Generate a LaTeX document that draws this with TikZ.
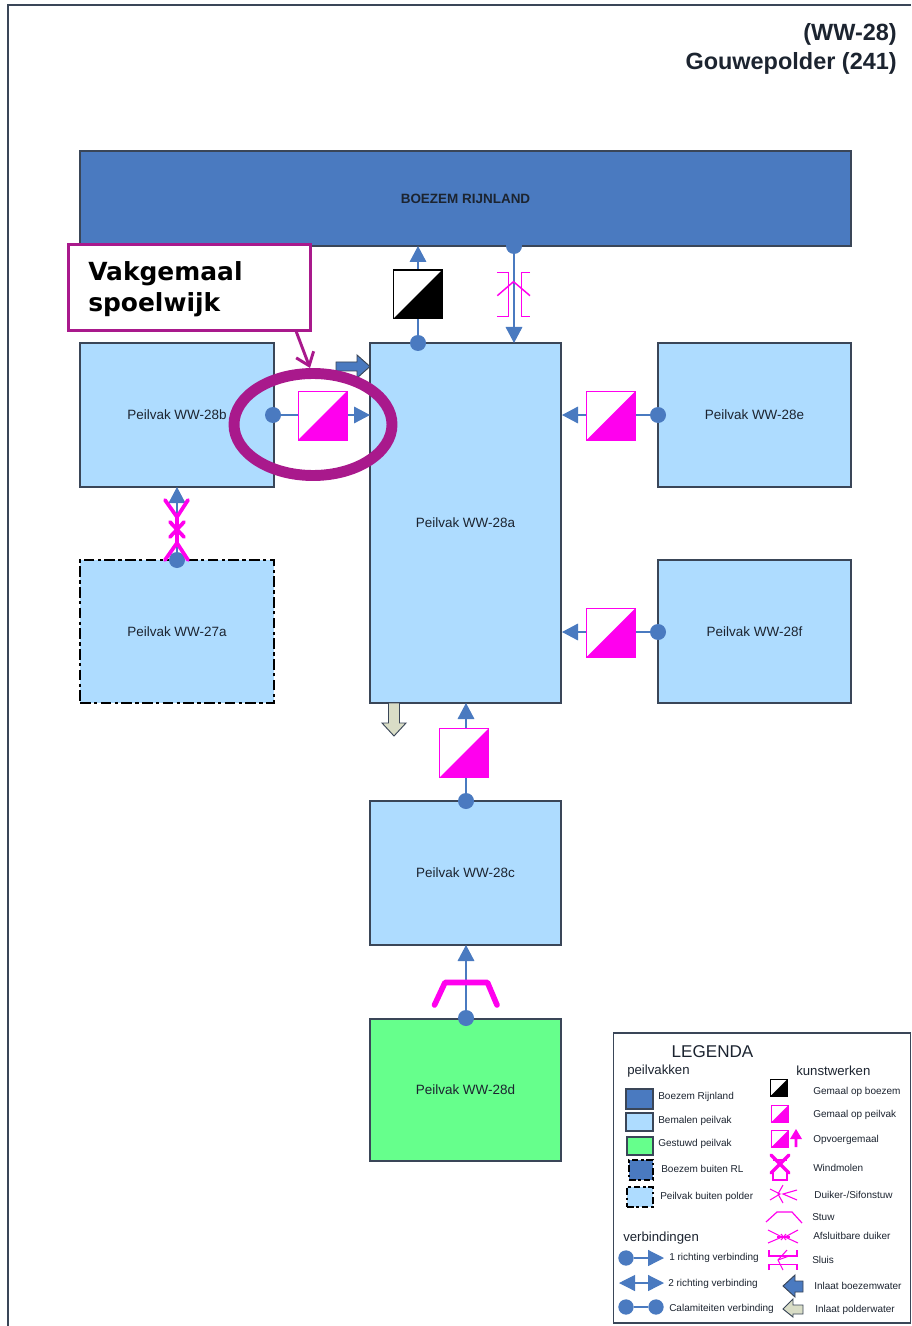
\documentclass[tikz,border=0pt]{standalone}
\usepackage{fontspec}
\setmainfont{Liberation Sans}
\newfontfamily\callfont{DejaVu Sans}
\usetikzlibrary{arrows.meta,shapes.geometric}
\definecolor{bl}{HTML}{4A7AC0}
\definecolor{lb}{HTML}{AEDCFF}
\definecolor{gr}{HTML}{66FF8C}
\definecolor{edge}{HTML}{3A4658}
\definecolor{mag}{HTML}{FF00EE}
\definecolor{pur}{HTML}{A9198C}
\definecolor{txt}{HTML}{1C2430}
\definecolor{pale}{HTML}{D9DDC6}
\tikzset{
 box/.style={draw=edge,line width=.85pt,inner sep=0,outer sep=0,text=txt,font=\fontsize{10.1pt}{12pt}\selectfont},
 ddash/.style={draw=black,dash pattern=on 8pt off 2.5pt on 2.5pt off 2.5pt},
 dot/.style={circle,fill=bl,inner sep=0,outer sep=0,minimum size=12pt},
 ldot/.style={circle,fill=bl,inner sep=0,outer sep=0,minimum size=11.5pt},
 conn/.style={draw=bl,line width=.9pt},
 tip/.style={conn,-{Triangle[length=12pt,width=12.5pt,fill=bl]}},
 gem/.style={draw=#1,line width=1pt,fill=white,inner sep=0,outer sep=0,minimum size=36.5pt,
   path picture={\fill[#1] (path picture bounding box.north east)--(path picture bounding box.south east)--(path picture bounding box.south west)--cycle;}},
 lgem/.style={gem=#1,minimum size=12.5pt},
 mg/.style={draw=mag,line width=1.1pt},
 mgt/.style={draw=mag,line width=2.8pt,line cap=round,line join=round},
 lab/.style={anchor=west,inner sep=0,text=txt,font=\fontsize{7.5pt}{9pt}\selectfont},
 head/.style={anchor=west,inner sep=0,text=txt,font=\fontsize{9.9pt}{12pt}\selectfont},
}
\newcommand\bx[7][box]{\node[#1,#6,minimum width={(#4-#2)*0.75pt},minimum height={(#5-#3)*0.75pt}] (#7) at ({(#2+#4)/2},{(#3+#5)/2})}
\begin{document}
\begin{tikzpicture}[x=0.75pt,y=-0.75pt]
\useasboundingbox (0,0) rectangle (911,1326);
\fill[white] (0,0) rectangle (911,1326);
\coordinate (fa) at (8,1326); \coordinate (fb) at (8,5); \coordinate (fc) at (911,5);
\draw[edge,line width=.9pt] (fa)--(fb)--(fc);
% title
\node[anchor=east,inner sep=0,text=txt,font=\bfseries\fontsize{17.6pt}{20pt}\selectfont] (t1) at (897,34) {(WW-28)};
\node[anchor=east,inner sep=0,text=txt,font=\bfseries\fontsize{17.6pt}{20pt}\selectfont] (t2) at (897,63) {Gouwepolder (241)};
% boxes
\bx{80}{151}{851}{246}{fill=bl}{boezem} {\bfseries BOEZEM RIJNLAND};
\bx{80}{343}{274}{487}{fill=lb}{b} {Peilvak WW-28b};
\bx{80}{560}{274}{703}{fill=lb,ddash}{k} {Peilvak WW-27a};
\bx{370}{343}{561}{703}{fill=lb}{a} {Peilvak WW-28a};
\bx{658}{343}{851}{487}{fill=lb}{e} {Peilvak WW-28e};
\bx{658}{560}{851}{703}{fill=lb}{f} {Peilvak WW-28f};
\bx{370}{801}{561}{945}{fill=lb}{c} {Peilvak WW-28c};
\bx{370}{1019}{561}{1161}{fill=gr}{d} {Peilvak WW-28d};
% coordinates on edges
\coordinate (tb1) at (418,246);
\coordinate (ta1) at (514,343);
\coordinate (tab) at (370,415);
\coordinate (tea) at (562,415);
\coordinate (tfa) at (562,632);
\coordinate (tca) at (466,703);
\coordinate (tdc) at (466,945);
\coordinate (tkb) at (177,487);
% dots
\node[dot] (d1) at (418,343) {};
\node[dot] (d2) at (514,246) {};
\node[dot] (d3) at (273,415) {};
\node[dot] (d4) at (658,415) {};
\node[dot] (d5) at (658,632) {};
\node[dot] (d6) at (466,801) {};
\node[dot] (d7) at (466,1018) {};
\node[dot] (d8) at (177,560) {};
% connectors
\draw[tip] (d1)--(tb1);
\draw[tip] (d2)--(ta1);
\draw[tip] (d3)--(tab);
\draw[tip] (d4)--(tea);
\draw[tip] (d5)--(tfa);
\draw[tip] (d6)--(tca);
\draw[tip] (d7)--(tdc);
\draw[tip] (d8)--(tkb);
% gemaal squares
\node[gem=black] (g1) at (417.5,294.5) {};
\node[gem=mag] (g2) at (322.5,415.5) {};
\node[gem=mag] (g3) at (611,415.5) {};
\node[gem=mag] (g4) at (611,632.5) {};
\node[gem=mag] (g5) at (464,753) {};
% sluis on boezem link
\draw[mg] (497.3,272.7)--(508.3,272.7)--(508.3,316.7)--(497.3,316.7);
\draw[mg] (530,272.7)--(521.7,272.7)--(521.7,316.7)--(530,316.7);
\draw[mg] (497.3,295.7)--(513.5,281.7)--(530,295.7);
% afsluitbare duiker
\draw[mgt] (165,500)--(177,517)--(188,500);
\draw[mgt] (165,560)--(177,543)--(188,560);
\draw[mgt] (177,517)--(177,543);
\draw[mgt] (170,522)--(184,537);
\draw[mgt] (184,522)--(170,537);
% stuw
\draw[draw=mag,line width=4.2pt,line cap=round,line join=round] (434.5,1005)--(445,982.5)--(487.5,982.5)--(497,1005);
% inlet arrows
\draw[fill=bl,draw=edge,line width=.7pt] (336,362)--(357,362)--(357,355)--(370,366.5)--(357,378)--(357,371)--(336,371)--cycle;
\draw[fill=pale,draw=edge,line width=.7pt] (388.5,703)--(388.5,723)--(382,723)--(394,736)--(406,723)--(399.5,723)--(399.5,703)--cycle;
% callout
\node[draw=pur,line width=2.2pt,fill=white,inner sep=0,outer sep=0,minimum width=182pt,minimum height=65pt] (call) at (189.5,287.5) {};
\node[anchor=west,inner sep=0,align=left,text=black,font=\callfont\bfseries\fontsize{18.7pt}{23pt}\selectfont] (calltext) at (88,289) {Vakgemaal\\spoelwijk};
\node[ellipse,draw=pur,line width=8.2pt,inner sep=0,minimum width=118.5pt,minimum height=76.5pt] (ell) at (313,424.5) {};
\coordinate (cs) at (296,331); \coordinate (ct) at (310,368);
\draw[pur,line width=2.2pt,-{Straight Barb[length=9pt,width=14pt]}] (cs)--(ct);
% legend
\node[draw=edge,line width=1pt,fill=white,inner sep=0,outer sep=0,minimum width=223pt,minimum height=217.5pt] (leg) at (762,1178) {};
\node[inner sep=0,text=txt,font=\fontsize{12.8pt}{14pt}\selectfont] (lh) at (712.5,1051.5) {LEGENDA};
\node[head] (h1) at (627,1071) {peilvakken};
\node[head] (h2) at (796,1071) {kunstwerken};
\node[head] (h3) at (623,1238) {verbindingen};
\bx{626}{1089}{653}{1109}{fill=bl}{l1} {};
\bx{626}{1113}{653}{1131}{fill=lb}{l2} {};
\bx{627}{1137}{653}{1155}{fill=gr}{l3} {};
\bx{629}{1160}{653}{1180}{fill=bl,ddash,dash pattern=on 5pt off 2pt on 2pt off 2pt}{l4} {};
\bx{627}{1187}{653}{1207}{fill=lb,ddash,dash pattern=on 5pt off 2pt on 2pt off 2pt}{l5} {};
\node[lab] (p1) at (658,1096.5) {Boezem Rijnland};
\node[lab] (p2) at (658,1120.5) {Bemalen peilvak};
\node[lab] (p3) at (658,1143.5) {Gestuwd peilvak};
\node[lab] (p4) at (661,1168.5) {Boezem buiten RL};
\node[lab] (p5) at (660,1196.5) {Peilvak buiten polder};
% legend connections
\node[ldot] (v1) at (626,1258) {};
\coordinate (v1t) at (664,1258);
\draw[conn,-{Triangle[length=12pt,width=12pt,fill=bl]}] (v1)--(v1t);
\coordinate (v2a) at (619,1283); \coordinate (v2b) at (664,1283);
\draw[conn,{Triangle[length=12pt,width=12pt,fill=bl]}-{Triangle[length=12pt,width=12pt,fill=bl]}] (v2a)--(v2b);
\node[ldot] (v3) at (626,1307) {};
\node[ldot] (v4) at (656,1307) {};
\draw[conn] (v3)--(v4);
\node[lab] (q1) at (669,1258) {1 richting verbinding};
\node[lab] (q2) at (668,1283.5) {2 richting verbinding};
\node[lab] (q3) at (669,1308.5) {Calamiteiten verbinding};
% legend structures
\node[lgem=black] (s1) at (779,1087.5) {};
\node[lgem=mag] (s2) at (780,1113.5) {};
\node[lgem=mag] (s3) at (780,1138.5) {};
\fill[mag] (796,1129)--(802,1139)--(797.3,1139)--(797.3,1147)--(794.7,1147)--(794.7,1139)--(790,1139)--cycle;
\draw[mag,line width=2.6pt,line cap=round] (771,1155)--(789,1173);
\draw[mag,line width=2.6pt,line cap=round] (789,1155)--(771,1173);
\draw[mag,line width=1pt] (773,1160)--(787,1160);
\draw[mag,line width=1pt] (773,1170)--(773,1180)--(787,1180)--(787,1170);
\draw[mg,line width=.8pt] (770,1189)--(780,1194)--(770,1200);
\draw[mg,line width=.8pt] (797,1190)--(783,1194)--(797,1200);
\draw[mg,line width=.8pt] (783,1185)--(778,1194)--(783,1203);
\draw[mg,line width=.9pt] (766,1222)--(777,1212)--(792,1212)--(802,1223);
\draw[mg,line width=.8pt] (768,1230)--(782,1237)--(768,1243);
\draw[mg,line width=.8pt] (798,1230)--(785,1237)--(798,1243);
\draw[mg,line width=.8pt] (777,1237)--(790,1237);
\draw[mg,line width=.8pt] (781,1234)--(786,1240);
\draw[mg,line width=.8pt] (786,1234)--(781,1240);
\draw[mg,line width=.8pt] (769,1250)--(769,1256)--(797,1256)--(797,1250);
\draw[mg,line width=.8pt] (769,1270)--(769,1264.5)--(797,1264.5)--(797,1270);
\draw[mg,line width=.8pt] (787,1250)--(778,1260)--(783,1270);
\draw[mg,line width=.8pt] (778,1260)--(789,1256);
\draw[fill=bl,draw=edge,line width=.7pt] (803,1281)--(795,1281)--(795,1275)--(783,1286)--(795,1297)--(795,1292)--(803,1292)--cycle;
\draw[fill=pale,draw=edge,line width=.7pt] (803,1305)--(793,1305)--(793,1299)--(783,1309)--(793,1317)--(793,1314)--(803,1314)--cycle;
\node[lab] (r1) at (813,1091.5) {Gemaal op boezem};
\node[lab] (r2) at (813,1114.5) {Gemaal op peilvak};
\node[lab] (r3) at (813,1140) {Opvoergemaal};
\node[lab] (r4) at (813,1167.5) {Windmolen};
\node[lab] (r5) at (814,1194.5) {Duiker-/Sifonstuw};
\node[lab] (r6) at (812,1217.5) {Stuw};
\node[lab] (r7) at (813,1235.5) {Afsluitbare duiker};
\node[lab] (r8) at (812,1259.5) {Sluis};
\node[lab] (r9) at (814,1285.5) {Inlaat boezemwater};
\node[lab] (r10) at (815,1309.5) {Inlaat polderwater};
\end{tikzpicture}
\end{document}
